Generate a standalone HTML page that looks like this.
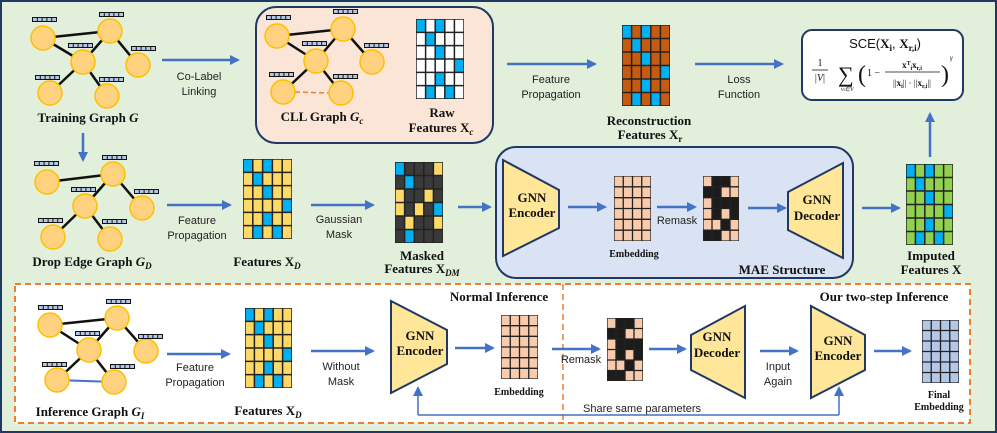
<!DOCTYPE html>
<html><head><meta charset="utf-8"><style>
html,body{margin:0;padding:0;background:#e2efda}
svg{display:block}
.s{font-family:"Liberation Sans",sans-serif;font-size:11px;fill:#222}
.b{font-family:"Liberation Serif",serif;font-weight:bold;font-size:13px;fill:#111}
.m{font-family:"Liberation Serif",serif;font-weight:bold;font-size:10px;fill:#111}
</style></head><body>
<svg width="997" height="433" viewBox="0 0 997 433" xmlns="http://www.w3.org/2000/svg">
<defs>
<marker id="ah" markerWidth="10" markerHeight="10" refX="8" refY="5" orient="auto" markerUnits="userSpaceOnUse">
<path d="M0,0 L10,5 L0,10 z" fill="#4472c4"/></marker>
<symbol id="bar" viewBox="0 0 25 5" preserveAspectRatio="none">
<rect width="25" height="5" fill="#111"/>
<g fill="#b4c7e7"><rect x="1" y="1" width="3.8" height="3"/><rect x="5.8" y="1" width="3.8" height="3"/><rect x="10.6" y="1" width="3.8" height="3"/><rect x="15.4" y="1" width="3.8" height="3"/><rect x="20.2" y="1" width="3.8" height="3"/></g>
</symbol>
<symbol id="bp" viewBox="0 0 5 6" preserveAspectRatio="none"><g fill="#00b0f0">
<rect x="0" y="0" width="1" height="1"/><rect x="2" y="0" width="1" height="1"/><rect x="1" y="1" width="1" height="1"/><rect x="2" y="2" width="1" height="1"/><rect x="4" y="3" width="1" height="1"/><rect x="2" y="4" width="1" height="1"/><rect x="1" y="5" width="1" height="1"/><rect x="3" y="5" width="1" height="1"/></g></symbol>
<symbol id="g5" viewBox="0 0 5 6" preserveAspectRatio="none">
<path d="M0 0H5V6H0Z M1 0V6 M2 0V6 M3 0V6 M4 0V6 M0 1H5 M0 2H5 M0 3H5 M0 4H5 M0 5H5" fill="none" stroke="#222" stroke-width="1.5" vector-effect="non-scaling-stroke"/></symbol>
<symbol id="g4" viewBox="0 0 4 6" preserveAspectRatio="none">
<path d="M0 0H4V6H0Z M1 0V6 M2 0V6 M3 0V6 M0 1H4 M0 2H4 M0 3H4 M0 4H4 M0 5H4" fill="none" stroke="#222" stroke-width="1.3" vector-effect="non-scaling-stroke"/></symbol>
<symbol id="rm" viewBox="0 0 4 6" preserveAspectRatio="none"><rect width="4" height="6" fill="#f8cbad"/><g fill="#1c1c1c">
<rect x="1" y="0" width="2" height="1"/><rect x="0" y="1" width="2" height="1"/><rect x="1" y="2" width="3" height="1"/><rect x="1" y="3" width="1" height="1"/><rect x="3" y="3" width="1" height="1"/><rect x="2" y="4" width="1" height="1"/><rect x="0" y="5" width="2" height="1"/></g></symbol>
</defs>

<rect x="1" y="1" width="995" height="431" fill="#e2efda" stroke="#1f3864" stroke-width="2"/>

<!-- Training graph -->
<g stroke="#111" stroke-width="2.5">
<line x1="43" y1="38" x2="110" y2="31"/><line x1="43" y1="38" x2="83" y2="62"/><line x1="83" y1="62" x2="110" y2="31"/><line x1="110" y1="31" x2="138" y2="65"/><line x1="83" y1="62" x2="50" y2="93"/><line x1="83" y1="62" x2="107" y2="96"/></g>
<g fill="#fed27e" stroke="#ffc000" stroke-width="1.5">
<circle cx="43" cy="38" r="12"/><circle cx="110" cy="31" r="12"/><circle cx="83" cy="62" r="12"/><circle cx="138" cy="65" r="12"/><circle cx="50" cy="93" r="12"/><circle cx="107" cy="96" r="12"/></g>
<use href="#bar" x="32" y="17" width="25" height="5"/><use href="#bar" x="99" y="12" width="25" height="5"/><use href="#bar" x="68" y="43" width="25" height="5"/><use href="#bar" x="131" y="46" width="25" height="5"/><use href="#bar" x="35" y="75" width="25" height="5"/><use href="#bar" x="99" y="77" width="25" height="5"/>
<text class="b" x="88" y="122" text-anchor="middle">Training Graph <tspan font-style="italic">G</tspan></text>

<line x1="83" y1="133" x2="83" y2="160" stroke="#4472c4" stroke-width="2.5" marker-end="url(#ah)"/>
<line x1="162" y1="60" x2="238" y2="60" stroke="#4472c4" stroke-width="2.5" marker-end="url(#ah)"/>
<text class="s" x="199" y="80" text-anchor="middle">Co-Label</text><text class="s" x="199" y="95" text-anchor="middle">Linking</text>

<!-- CLL box -->
<rect x="256" y="7" width="237" height="136" rx="20" fill="#fbe5d6" stroke="#1f3864" stroke-width="2"/>
<g stroke="#111" stroke-width="2.5">
<line x1="277" y1="36" x2="343" y2="29"/><line x1="277" y1="36" x2="316" y2="61"/><line x1="316" y1="61" x2="343" y2="29"/><line x1="343" y1="29" x2="372" y2="62"/><line x1="316" y1="61" x2="283" y2="92"/><line x1="316" y1="61" x2="341" y2="93"/></g>
<line x1="295" y1="92" x2="329" y2="93" stroke="#ed7d31" stroke-width="1.5" stroke-dasharray="5,3"/>
<g fill="#fed27e" stroke="#ffc000" stroke-width="1.5">
<circle cx="277" cy="36" r="12"/><circle cx="343" cy="29" r="12"/><circle cx="316" cy="61" r="12"/><circle cx="372" cy="62" r="12"/><circle cx="283" cy="92" r="12"/><circle cx="341" cy="93" r="12"/></g>
<use href="#bar" x="266" y="15" width="25" height="5"/><use href="#bar" x="333" y="9" width="25" height="5"/><use href="#bar" x="302" y="41" width="25" height="5"/><use href="#bar" x="364" y="43" width="25" height="5"/><use href="#bar" x="269" y="72" width="25" height="5"/><use href="#bar" x="333" y="74" width="25" height="5"/>
<text class="b" x="322" y="121" text-anchor="middle">CLL Graph <tspan font-style="italic">G</tspan><tspan font-style="italic" font-size="9" dy="3">c</tspan></text>
<svg x="416" y="19" width="48" height="80" viewBox="0 0 5 6" preserveAspectRatio="none"><rect width="5" height="6" fill="#fff"/><use href="#bp" width="5" height="6"/><use href="#g5" width="5" height="6"/></svg>
<text class="b" x="442" y="117" text-anchor="middle">Raw</text>
<text class="b" x="441" y="132" text-anchor="middle">Features X<tspan font-style="italic" font-size="9" dy="3">c</tspan></text>

<line x1="507" y1="64" x2="595" y2="64" stroke="#4472c4" stroke-width="2.5" marker-end="url(#ah)"/>
<text class="s" x="551" y="83" text-anchor="middle">Feature</text><text class="s" x="551" y="98" text-anchor="middle">Propagation</text>
<svg x="622" y="25" width="48" height="81" viewBox="0 0 5 6" preserveAspectRatio="none"><rect width="5" height="6" fill="#c55a11"/><use href="#bp" width="5" height="6"/><use href="#g5" width="5" height="6"/></svg>
<text class="b" x="649" y="125" text-anchor="middle">Reconstruction</text>
<text class="b" x="650" y="139" text-anchor="middle">Features X<tspan font-size="9" dy="3">r</tspan></text>
<line x1="695" y1="64" x2="782" y2="64" stroke="#4472c4" stroke-width="2.5" marker-end="url(#ah)"/>
<text class="s" x="739" y="83" text-anchor="middle">Loss</text><text class="s" x="739" y="98" text-anchor="middle">Function</text>

<!-- SCE -->
<rect x="802" y="30" width="161" height="70" rx="10" fill="#fff" stroke="#1f3864" stroke-width="2"/>
<text x="885" y="48" text-anchor="middle" font-family="Liberation Sans,sans-serif" font-size="13" fill="#111">SCE(<tspan font-family="Liberation Serif,serif" font-weight="bold">X</tspan><tspan font-family="Liberation Serif,serif" font-weight="bold" font-size="9" dy="3">i</tspan><tspan dy="-3">, </tspan><tspan font-family="Liberation Serif,serif" font-weight="bold">X</tspan><tspan font-family="Liberation Serif,serif" font-weight="bold" font-size="9" dy="3">r,i</tspan><tspan dy="-3">)</tspan></text>
<g font-family="Liberation Serif,serif" fill="#111">
<text x="820" y="66" font-size="10" text-anchor="middle">1</text>
<line x1="812" y1="70" x2="828" y2="70" stroke="#111" stroke-width="0.8"/>
<text x="820" y="81" font-size="10" text-anchor="middle">|<tspan font-style="italic">V</tspan>|</text>
<text x="838" y="82" font-size="22">∑</text>
<text x="841" y="91" font-size="6" font-style="italic">v<tspan font-size="4">i</tspan>∈V</text>
<text x="858" y="82" font-size="24" font-weight="100">(</text>
<text x="867" y="76" font-size="10">1 −</text>
<text x="912" y="68" font-size="9" font-weight="bold" text-anchor="middle">x<tspan font-size="6" dy="-3">T</tspan><tspan font-size="6" dy="5">i</tspan><tspan dy="-2">x</tspan><tspan font-size="6" dy="2">r,i</tspan></text>
<line x1="885" y1="72" x2="940" y2="72" stroke="#111" stroke-width="0.8"/>
<text x="912" y="86" font-size="9" text-anchor="middle">||<tspan font-weight="bold">x</tspan><tspan font-size="6" font-weight="bold" dy="2">i</tspan><tspan dy="-2">|| · ||</tspan><tspan font-weight="bold">x</tspan><tspan font-size="6" font-weight="bold" dy="2">r,i</tspan><tspan dy="-2">||</tspan></text>
<text x="941" y="82" font-size="24">)</text>
<text x="950" y="60" font-size="7" font-style="italic">γ</text>
</g>
<line x1="930" y1="157" x2="930" y2="114" stroke="#4472c4" stroke-width="2.5" marker-end="url(#ah)"/>

<!-- Drop edge graph -->
<g stroke="#111" stroke-width="2.5">
<line x1="47" y1="182" x2="113" y2="174"/><line x1="85" y1="206" x2="113" y2="174"/><line x1="113" y1="174" x2="142" y2="208"/><line x1="85" y1="206" x2="53" y2="237"/><line x1="85" y1="206" x2="110" y2="239"/></g>
<g fill="#fed27e" stroke="#ffc000" stroke-width="1.5">
<circle cx="47" cy="182" r="12"/><circle cx="113" cy="174" r="12"/><circle cx="85" cy="206" r="12"/><circle cx="142" cy="208" r="12"/><circle cx="53" cy="237" r="12"/><circle cx="110" cy="239" r="12"/></g>
<use href="#bar" x="34" y="161" width="25" height="5"/><use href="#bar" x="102" y="155" width="25" height="5"/><use href="#bar" x="71" y="187" width="25" height="5"/><use href="#bar" x="134" y="189" width="25" height="5"/><use href="#bar" x="38" y="218" width="25" height="5"/><use href="#bar" x="102" y="219" width="25" height="5"/>
<text class="b" x="92" y="266" text-anchor="middle">Drop Edge Graph <tspan font-style="italic">G</tspan><tspan font-style="italic" font-size="9" dy="3">D</tspan></text>

<line x1="167" y1="205" x2="230" y2="205" stroke="#4472c4" stroke-width="2.5" marker-end="url(#ah)"/>
<text class="s" x="197" y="224" text-anchor="middle">Feature</text><text class="s" x="197" y="239" text-anchor="middle">Propagation</text>
<svg x="243" y="159" width="49" height="80" viewBox="0 0 5 6" preserveAspectRatio="none"><rect width="5" height="6" fill="#ffd966"/><use href="#bp" width="5" height="6"/><use href="#g5" width="5" height="6"/></svg>
<text class="b" x="267" y="266" text-anchor="middle">Features X<tspan font-style="italic" font-size="9" dy="3">D</tspan></text>
<line x1="311" y1="205" x2="373" y2="205" stroke="#4472c4" stroke-width="2.5" marker-end="url(#ah)"/>
<text class="s" x="339" y="223" text-anchor="middle">Gaussian</text><text class="s" x="339" y="238" text-anchor="middle">Mask</text>
<svg x="395" y="162" width="48" height="81" viewBox="0 0 5 6" preserveAspectRatio="none"><rect width="5" height="6" fill="#3a3a3a"/>
<g fill="#00b0f0"><rect x="0" y="0" width="1" height="1"/><rect x="1" y="1" width="1" height="1"/><rect x="4" y="3" width="1" height="1"/><rect x="1" y="5" width="1" height="1"/></g>
<g fill="#ffd966"><rect x="4" y="0" width="1" height="1"/><rect x="0" y="2" width="1" height="1"/><rect x="3" y="2" width="1" height="1"/><rect x="0" y="3" width="1" height="1"/><rect x="2" y="3" width="1" height="1"/><rect x="1" y="4" width="1" height="1"/><rect x="4" y="4" width="1" height="1"/></g>
<use href="#g5" width="5" height="6"/></svg>
<text class="b" x="422" y="260" text-anchor="middle">Masked</text>
<text class="b" x="422" y="273" text-anchor="middle">Features X<tspan font-style="italic" font-size="9" dy="3">DM</tspan></text>
<line x1="458" y1="207" x2="490" y2="207" stroke="#4472c4" stroke-width="2.5" marker-end="url(#ah)"/>

<!-- MAE -->
<rect x="496" y="147" width="357" height="131" rx="20" fill="#dae3f3" stroke="#1f3864" stroke-width="2"/>
<polygon points="503,160 559,190 559,228 503,256" fill="#ffe699" stroke="#1f3864" stroke-width="2"/>
<text class="b" x="532" y="202" text-anchor="middle">GNN</text><text class="b" x="532" y="217" text-anchor="middle">Encoder</text>
<line x1="568" y1="207" x2="605" y2="207" stroke="#4472c4" stroke-width="2.5" marker-end="url(#ah)"/>
<svg x="614" y="176" width="37" height="65" viewBox="0 0 4 6" preserveAspectRatio="none"><rect width="4" height="6" fill="#f8cbad"/><use href="#g4" width="4" height="6"/></svg>
<text class="m" x="634" y="257" text-anchor="middle">Embedding</text>
<line x1="657" y1="207" x2="695" y2="207" stroke="#4472c4" stroke-width="2.5" marker-end="url(#ah)"/>
<text class="s" x="677" y="224" text-anchor="middle" font-size="9">Remask</text>
<svg x="703" y="176" width="36" height="65" viewBox="0 0 4 6" preserveAspectRatio="none"><use href="#rm" width="4" height="6"/><use href="#g4" width="4" height="6"/></svg>
<line x1="748" y1="208" x2="785" y2="208" stroke="#4472c4" stroke-width="2.5" marker-end="url(#ah)"/>
<polygon points="788,192 843,163 843,258 788,230" fill="#ffe699" stroke="#1f3864" stroke-width="2"/>
<text class="b" x="817" y="204" text-anchor="middle">GNN</text><text class="b" x="817" y="220" text-anchor="middle">Decoder</text>
<text class="b" x="782" y="274" text-anchor="middle" font-size="15">MAE Structure</text>
<line x1="862" y1="208" x2="899" y2="208" stroke="#4472c4" stroke-width="2.5" marker-end="url(#ah)"/>
<svg x="906" y="164" width="47" height="81" viewBox="0 0 5 6" preserveAspectRatio="none"><rect width="5" height="6" fill="#92d050"/><use href="#bp" width="5" height="6"/><use href="#g5" width="5" height="6"/></svg>
<text class="b" x="931" y="260" text-anchor="middle">Imputed</text>
<text class="b" x="931" y="274" text-anchor="middle">Features X</text>

<!-- Bottom -->
<rect x="15" y="284" width="955" height="139" fill="#fff" stroke="#ed7d31" stroke-width="2" stroke-dasharray="6,4"/>
<line x1="563" y1="284" x2="563" y2="423" stroke="#ed7d31" stroke-width="1.5" stroke-dasharray="6,4"/>
<g stroke="#111" stroke-width="2.5">
<line x1="50" y1="325" x2="117" y2="318"/><line x1="50" y1="325" x2="89" y2="350"/><line x1="89" y1="350" x2="117" y2="318"/><line x1="117" y1="318" x2="146" y2="351"/><line x1="89" y1="350" x2="57" y2="380"/><line x1="89" y1="350" x2="114" y2="382"/></g>
<line x1="57" y1="380" x2="114" y2="382" stroke="#4472c4" stroke-width="2"/>
<g fill="#fed27e" stroke="#ffc000" stroke-width="1.5">
<circle cx="50" cy="325" r="12"/><circle cx="117" cy="318" r="12"/><circle cx="89" cy="350" r="12"/><circle cx="146" cy="351" r="12"/><circle cx="57" cy="380" r="12"/><circle cx="114" cy="382" r="12"/></g>
<use href="#bar" x="38" y="305" width="25" height="5"/><use href="#bar" x="106" y="299" width="25" height="5"/><use href="#bar" x="75" y="331" width="25" height="5"/><use href="#bar" x="138" y="334" width="25" height="5"/><use href="#bar" x="42" y="362" width="25" height="5"/><use href="#bar" x="110" y="364" width="25" height="5"/>
<text class="b" x="90" y="416" text-anchor="middle">Inference Graph <tspan font-style="italic">G</tspan><tspan font-style="italic" font-size="9" dy="3">I</tspan></text>

<line x1="167" y1="354" x2="229" y2="354" stroke="#4472c4" stroke-width="2.5" marker-end="url(#ah)"/>
<text class="s" x="195" y="371" text-anchor="middle">Feature</text><text class="s" x="195" y="386" text-anchor="middle">Propagation</text>
<svg x="245" y="308" width="47" height="80" viewBox="0 0 5 6" preserveAspectRatio="none"><rect width="5" height="6" fill="#ffd966"/><use href="#bp" width="5" height="6"/><use href="#g5" width="5" height="6"/></svg>
<text class="b" x="268" y="415" text-anchor="middle">Features X<tspan font-style="italic" font-size="9" dy="3">D</tspan></text>
<line x1="311" y1="351" x2="373" y2="351" stroke="#4472c4" stroke-width="2.5" marker-end="url(#ah)"/>
<text class="s" x="341" y="370" text-anchor="middle">Without</text><text class="s" x="341" y="385" text-anchor="middle">Mask</text>
<polygon points="391,301 447,330 447,364 391,393" fill="#ffe699" stroke="#1f3864" stroke-width="2"/>
<text class="b" x="420" y="340" text-anchor="middle">GNN</text><text class="b" x="420" y="355" text-anchor="middle">Encoder</text>
<text class="b" x="499" y="301" text-anchor="middle">Normal Inference</text>
<line x1="455" y1="348" x2="493" y2="348" stroke="#4472c4" stroke-width="2.5" marker-end="url(#ah)"/>
<svg x="501" y="315" width="37" height="64" viewBox="0 0 4 6" preserveAspectRatio="none"><rect width="4" height="6" fill="#f8cbad"/><use href="#g4" width="4" height="6"/></svg>
<text class="m" x="519" y="395" text-anchor="middle">Embedding</text>
<line x1="552" y1="349" x2="599" y2="349" stroke="#4472c4" stroke-width="2.5" marker-end="url(#ah)"/>
<text class="s" x="581" y="363" text-anchor="middle" font-size="8.5">Remask</text>
<svg x="607" y="318" width="36" height="63" viewBox="0 0 4 6" preserveAspectRatio="none"><use href="#rm" width="4" height="6"/><use href="#g4" width="4" height="6"/></svg>
<line x1="649" y1="349" x2="685" y2="349" stroke="#4472c4" stroke-width="2.5" marker-end="url(#ah)"/>
<polygon points="691,335 745,306 745,398 691,370" fill="#ffe699" stroke="#1f3864" stroke-width="2"/>
<text class="b" x="717" y="341" text-anchor="middle">GNN</text><text class="b" x="717" y="357" text-anchor="middle">Decoder</text>
<line x1="760" y1="351" x2="797" y2="351" stroke="#4472c4" stroke-width="2.5" marker-end="url(#ah)"/>
<text class="s" x="778" y="370" text-anchor="middle">Input</text><text class="s" x="778" y="385" text-anchor="middle">Again</text>
<text class="b" x="884" y="301" text-anchor="middle">Our two-step Inference</text>
<polygon points="811,306 865,335 865,370 811,398" fill="#ffe699" stroke="#1f3864" stroke-width="2"/>
<text class="b" x="838" y="345" text-anchor="middle">GNN</text><text class="b" x="838" y="360" text-anchor="middle">Encoder</text>
<line x1="874" y1="351" x2="910" y2="351" stroke="#4472c4" stroke-width="2.5" marker-end="url(#ah)"/>
<svg x="922" y="320" width="37" height="63" viewBox="0 0 4 6" preserveAspectRatio="none"><rect width="4" height="6" fill="#b4c7e7"/><use href="#g4" width="4" height="6"/></svg>
<text class="m" x="939" y="398" text-anchor="middle">Final</text>
<text class="m" x="939" y="410" text-anchor="middle">Embedding</text>
<polyline points="418,415 839,415" fill="none" stroke="#4472c4" stroke-width="1.5"/>
<line x1="418" y1="415" x2="418" y2="388" stroke="#4472c4" stroke-width="1.5" marker-end="url(#ah)"/>
<line x1="839" y1="415" x2="839" y2="388" stroke="#4472c4" stroke-width="1.5" marker-end="url(#ah)"/>
<text class="s" x="642" y="412" text-anchor="middle" font-size="11.5">Share same parameters</text>
</svg>
</body></html>
